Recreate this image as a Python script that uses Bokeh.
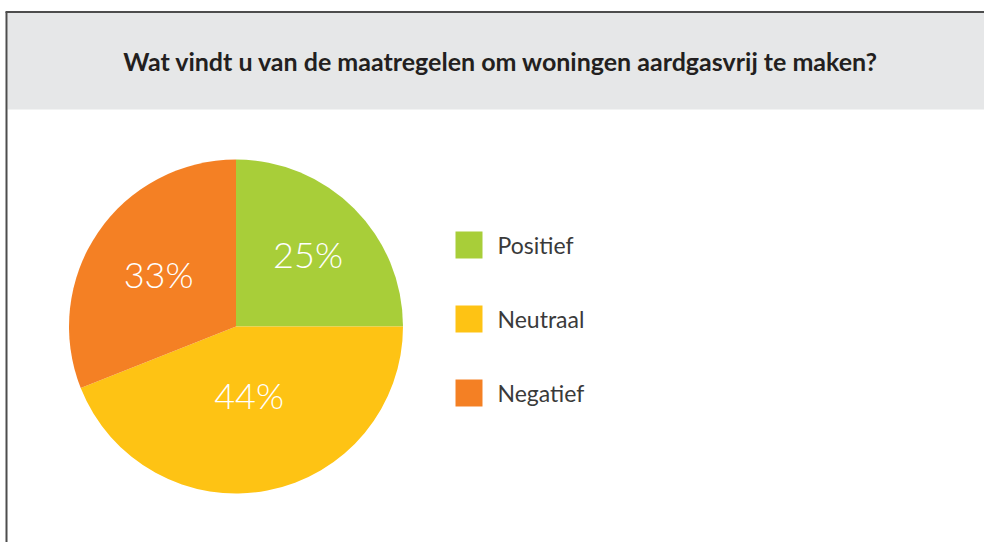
import numpy as np
from bokeh.plotting import figure
from bokeh.models import ColumnDataSource
from bokeh.core.properties import value
from bokeh.embed import file_html
from bokeh.resources import INLINE

# ---- data ----
title = "Wat vindt u van de maatregelen om woningen aardgasvrij te maken?"
categories = ["Positief", "Neutraal", "Negatief"]
percentages = [25, 44, 33]
pct_labels = ["25%", "44%", "33%"]
colors = ["#a8ce39", "#fec314", "#f48024"]

# ---- layout constants (pixels, y measured from top) ----
W, H = 984, 542
CX, CY, R = 235.5, 326.0, 167.0
LABEL_R = [0.61, 0.42, 0.56]
LEG_X, LEG_Y0, LEG_STEP, LEG_SIZE = 468.5, 244.5, 74.0, 27

def fy(py):
    return H - py

p = figure(width=W, height=H, x_range=(0, W), y_range=(0, H),
           min_border=0, toolbar_location=None, output_backend="svg")
p.axis.visible = False
p.grid.visible = False
p.outline_line_color = None
p.background_fill_color = "white"
p.border_fill_color = "white"

# header band and frame
p.quad(left=7, right=W, bottom=fy(109), top=fy(12), fill_color="#e6e7e8", line_color=None)
p.segment(x0=[5, 6], y0=[fy(11.5), fy(11.5)], x1=[W, 6], y1=[fy(11.5), 0],
          line_color="#4d4d4d", line_width=2)

p.text(x=[500.5], y=[fy(60)], text=[title], text_align="center", text_baseline="middle",
       text_font=value("Lato"), text_font_style="bold", text_font_size="25px", text_color="#231f20")

# pie: clockwise from the top, fractions of 100
cum = np.cumsum([0] + percentages)
start_frac = cum[:-1] / 100.0
end_frac = np.minimum(cum[1:], 100) / 100.0
start = np.pi / 2 - 2 * np.pi * start_frac
end = np.pi / 2 - 2 * np.pi * end_frac
mid = (start + end) / 2

src = ColumnDataSource(dict(start=start, end=end, color=colors, cat=categories))
p.wedge(x=CX, y=fy(CY), radius=R, start_angle="start", end_angle="end",
        direction="clock", fill_color="color", line_color=None, source=src)

lx = CX + R * np.array(LABEL_R) * np.cos(mid)
ly = fy(CY) + R * np.array(LABEL_R) * np.sin(mid)
p.text(x=lx, y=ly, text=pct_labels, text_align="center", text_baseline="middle",
       text_font=value("Lato Light"), text_font_size="36px", text_color="white")

# legend
idx = np.arange(len(categories))
ly_leg = [fy(LEG_Y0 + i * LEG_STEP) for i in idx]
p.rect(x=[LEG_X] * len(idx), y=ly_leg, width=LEG_SIZE, height=LEG_SIZE,
       fill_color=colors, line_color=None)
p.text(x=[LEG_X + 28.5] * len(idx), y=ly_leg, text=categories, text_align="left",
       text_baseline="middle", text_font=value("Lato"), text_font_size="23px",
       text_color="#3a3a3a")

open("out.html", "w").write(file_html(p, INLINE))
